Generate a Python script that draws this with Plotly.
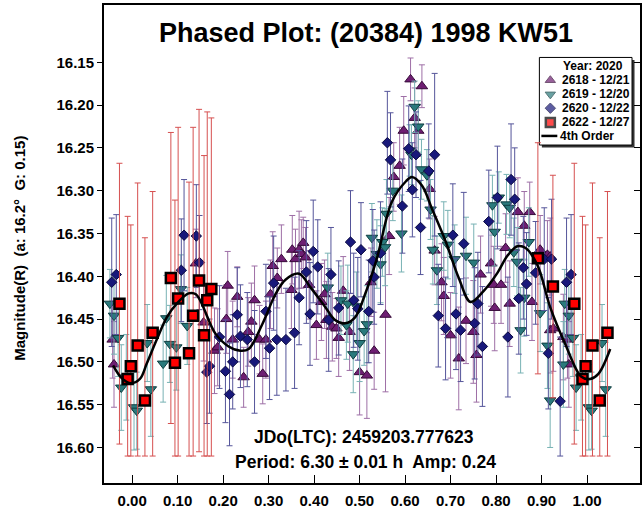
import plotly.graph_objects as go

# ---------------- data (phase, magnitude, error) ----------------
s2618_phase = [0.140, 0.157, 0.181, 0.188, 0.207, 0.210, 0.221, 0.231, 0.245, 0.255, 0.262, 0.269,
               0.280, 0.287, 0.294, 0.304, 0.309, 0.319, 0.328, 0.350, 0.352, 0.359, 0.367, 0.372,
               0.376, 0.381, 0.389, 0.405, 0.416, 0.423, 0.427, 0.440, 0.449, 0.454, 0.464, 0.478,
               0.500, 0.516, 0.525, 0.532, 0.557, 0.565, 0.575, 0.588, 0.597, 0.612, 0.621, 0.629,
               0.637, 0.654, 0.665, 0.680, 0.685, 0.700, 0.718, 0.734, 0.750, 0.757, 0.766, 0.789,
               0.795, 0.797, 0.811, 0.821, 0.830, 0.848, 0.862, 0.874, 0.879, 0.897, 0.913, 0.919,
               0.919, 0.926, 0.948, 0.957, 0.960]
s2618_mag = [16.385, 16.454, 16.487, 16.483, 16.450, 16.411, 16.474, 16.424, 16.518, 16.465, 16.453, 16.428,
             16.474, 16.514, 16.474, 16.421, 16.388, 16.402, 16.380, 16.416, 16.369, 16.380, 16.369, 16.374,
             16.361, 16.378, 16.410, 16.457, 16.430, 16.421, 16.451, 16.459, 16.461, 16.472, 16.417, 16.465,
             16.512, 16.516, 16.407, 16.487, 16.445, 16.353, 16.284, 16.271, 16.230, 16.170, 16.215, 16.230,
             16.178, 16.298, 16.370, 16.407, 16.423, 16.469, 16.496, 16.452, 16.465, 16.492, 16.398, 16.385,
             16.410, 16.437, 16.410, 16.367, 16.432, 16.325, 16.341, 16.325, 16.430, 16.369, 16.375, 16.377,
             16.463, 16.461, 16.471, 16.474, 16.503]
s2618_err = [0.040, 0.045, 0.050, 0.045, 0.040, 0.040, 0.045, 0.035, 0.035, 0.040, 0.045, 0.040,
             0.040, 0.035, 0.045, 0.040, 0.040, 0.035, 0.040, 0.045, 0.040, 0.035, 0.045, 0.040,
             0.030, 0.035, 0.040, 0.040, 0.045, 0.040, 0.045, 0.040, 0.035, 0.045, 0.040, 0.045,
             0.050, 0.050, 0.040, 0.045, 0.090, 0.045, 0.040, 0.045, 0.040, 0.025, 0.035, 0.030,
             0.025, 0.035, 0.040, 0.045, 0.045, 0.050, 0.060, 0.050, 0.060, 0.055, 0.045, 0.050,
             0.045, 0.050, 0.045, 0.040, 0.050, 0.040, 0.040, 0.035, 0.045, 0.040, 0.040, 0.045,
             0.050, 0.050, 0.050, 0.045, 0.050]

s2619_phase = [0.004, 0.010, 0.033, 0.041, 0.068, 0.075, 0.083, 0.097, 0.107, 0.121, 0.430, 0.459,
               0.471, 0.474, 0.486, 0.493, 0.500, 0.510, 0.516, 0.527, 0.538, 0.546, 0.550, 0.556,
               0.559, 0.573, 0.592, 0.610, 0.614, 0.621, 0.629, 0.636, 0.648, 0.656, 0.661, 0.670,
               0.685, 0.694, 0.709, 0.734, 0.751, 0.792, 0.797, 0.806, 0.823, 0.830, 0.839, 0.846,
               0.854, 0.862, 0.872, 0.897, 0.913, 0.919, 0.948, 0.951, 0.960, 0.969, 0.976, 0.987]
s2619_mag = [16.553, 16.557, 16.478, 16.532, 16.502, 16.449, 16.479, 16.483, 16.415, 16.458, 16.413, 16.428,
             16.457, 16.432, 16.491, 16.435, 16.478, 16.464, 16.456, 16.355, 16.374, 16.386, 16.360, 16.366,
             16.327, 16.300, 16.350, 16.253, 16.258, 16.202, 16.225, 16.275, 16.282, 16.322, 16.369, 16.393,
             16.353, 16.363, 16.380, 16.376, 16.384, 16.317, 16.348, 16.308, 16.316, 16.320, 16.372, 16.383,
             16.463, 16.425, 16.360, 16.443, 16.481, 16.545, 16.503, 16.432, 16.446, 16.472, 16.530, 16.518]
s2619_err = [0.050, 0.045, 0.045, 0.055, 0.045, 0.050, 0.045, 0.050, 0.040, 0.045, 0.040, 0.040,
             0.040, 0.045, 0.045, 0.040, 0.045, 0.040, 0.045, 0.040, 0.040, 0.045, 0.040, 0.045,
             0.040, 0.035, 0.045, 0.030, 0.035, 0.030, 0.030, 0.035, 0.030, 0.035, 0.040, 0.040,
             0.040, 0.040, 0.040, 0.045, 0.045, 0.035, 0.040, 0.030, 0.035, 0.035, 0.040, 0.040,
             0.050, 0.045, 0.040, 0.045, 0.050, 0.055, 0.050, 0.040, 0.045, 0.045, 0.050, 0.050]

s2620_phase = [0.108, 0.114, 0.141, 0.148, 0.164, 0.170, 0.192, 0.205, 0.214, 0.221, 0.231, 0.238,
               0.253, 0.269, 0.294, 0.302, 0.311, 0.318, 0.338, 0.357, 0.367, 0.383, 0.391, 0.398,
               0.408, 0.432, 0.437, 0.454, 0.480, 0.487, 0.496, 0.503, 0.520, 0.529, 0.532, 0.546,
               0.561, 0.568, 0.594, 0.608, 0.616, 0.624, 0.634, 0.652, 0.665, 0.673, 0.689, 0.705,
               0.712, 0.722, 0.729, 0.753, 0.760, 0.770, 0.784, 0.803, 0.826, 0.833, 0.841, 0.850,
               0.860, 0.867, 0.887, 0.906, 0.915, 0.922, 0.941, 0.955, 0.965]
s2620_mag = [16.393, 16.352, 16.353, 16.384, 16.512, 16.505, 16.471, 16.511, 16.538, 16.500, 16.445, 16.470,
             16.474, 16.500, 16.441, 16.484, 16.408, 16.474, 16.474, 16.466, 16.425, 16.395, 16.444, 16.371,
             16.389, 16.451, 16.398, 16.437, 16.360, 16.428, 16.438, 16.369, 16.441, 16.382, 16.401, 16.373,
             16.244, 16.264, 16.318, 16.251, 16.299, 16.258, 16.343, 16.277, 16.258, 16.446, 16.461, 16.352,
             16.444, 16.463, 16.362, 16.455, 16.432, 16.482, 16.336, 16.308, 16.471, 16.287, 16.310, 16.426,
             16.390, 16.409, 16.396, 16.380, 16.490, 16.380, 16.546, 16.407, 16.398]
s2620_err = [0.060, 0.065, 0.060, 0.055, 0.060, 0.055, 0.060, 0.060, 0.060, 0.055, 0.055, 0.060,
             0.055, 0.060, 0.055, 0.060, 0.055, 0.065, 0.060, 0.065, 0.055, 0.060, 0.060, 0.060,
             0.055, 0.060, 0.055, 0.055, 0.060, 0.055, 0.060, 0.055, 0.060, 0.060, 0.055, 0.060,
             0.060, 0.055, 0.055, 0.050, 0.055, 0.050, 0.055, 0.055, 0.095, 0.060, 0.060, 0.060,
             0.065, 0.060, 0.060, 0.065, 0.060, 0.070, 0.060, 0.060, 0.070, 0.065, 0.060, 0.065,
             0.060, 0.060, 0.060, 0.060, 0.065, 0.070, 0.075, 0.075, 0.070]

s2622_phase = [0.012, 0.028, 0.045, 0.085, 0.094, 0.101, 0.125, 0.134, 0.147, 0.158, 0.165, 0.174,
               0.892, 0.925, 0.972, 0.990, 0.997]
s2622_mag = [16.481, 16.545, 16.466, 16.402, 16.501, 16.426, 16.490, 16.446, 16.405, 16.469, 16.428, 16.415,
             16.379, 16.412, 16.432, 16.520, 16.505]
s2622_err = [0.190, 0.190, 0.165, 0.170, 0.190, 0.200, 0.200, 0.220, 0.200, 0.210, 0.220, 0.200,
             0.135, 0.130, 0.164, 0.190, 0.165]

# 4th order Fourier fit
fit_phase = [-0.042, -0.023, -0.003, 0.017, 0.032, 0.054, 0.076, 0.098, 0.124, 0.140, 0.183, 0.212,
             0.238, 0.256, 0.286, 0.315, 0.337, 0.367, 0.392, 0.422, 0.446, 0.468, 0.490, 0.512,
             0.538, 0.571, 0.602, 0.615, 0.637, 0.659, 0.689, 0.718, 0.744, 0.773, 0.803, 0.825,
             0.847, 0.865, 0.891, 0.919, 0.952, 0.987, 1.007, 1.025, 1.051]
fit_mag = [16.504, 16.519, 16.525, 16.520, 16.502, 16.474, 16.448, 16.432, 16.420, 16.421, 16.467, 16.482,
           16.487, 16.485, 16.456, 16.421, 16.404, 16.397, 16.413, 16.434, 16.451, 16.455, 16.448, 16.421,
           16.379, 16.313, 16.289, 16.284, 16.294, 16.321, 16.359, 16.402, 16.430, 16.417, 16.396, 16.376,
           16.365, 16.367, 16.387, 16.436, 16.479, 16.517, 16.520, 16.514, 16.485]

x_ticks = [0.0, 0.1, 0.2, 0.3, 0.4, 0.5, 0.6, 0.7, 0.8, 0.9, 1.0]
x_ticktext = ["0.00", "0.10", "0.20", "0.30", "0.40", "0.50", "0.60", "0.70", "0.80", "0.90", "1.00"]
y_ticks = [16.15, 16.20, 16.25, 16.30, 16.35, 16.40, 16.45, 16.50, 16.55, 16.60]
y_ticktext = ["16.15", "16.20", "16.25", "16.30", "16.35", "16.40", "16.45", "16.50", "16.55", "16.60"]

legend_labels = ["2618 - 12/21", "2619 - 12/20", "2620 - 12/22", "2622 - 12/27"]

# ---------------- helpers ----------------
WRAP = 0.05
CLIP = 16.61


def phased(ph, mg, er):
    X, Y, P, M = [], [], [], []
    for p, m, e in zip(ph, mg, er):
        reps = [p]
        if p < WRAP:
            reps.append(p + 1)
        if p > 1 - WRAP:
            reps.append(p - 1)
        for q in reps:
            X.append(q)
            Y.append(m)
            P.append(max(0.0, min(e, CLIP - m)))
            M.append(e)
    return X, Y, P, M


FONT = "Arial, Liberation Sans, sans-serif"
styles = [
    dict(symbol="triangle-up", size=10, color="#6E1E72", line=dict(color="#360A38", width=1), bar="#9E6FA6"),
    dict(symbol="triangle-down", size=10, color="#2A7A7C", line=dict(color="#0E3E40", width=1), bar="#78B2B4"),
    dict(symbol="diamond", size=8, color="#18187A", line=dict(color="#0A0A40", width=1), bar="#55559A"),
    dict(symbol="square", size=10, color="#FF0000", line=dict(color="#000000", width=2.5), bar="#D65050"),
]
series = [(s2618_phase, s2618_mag, s2618_err), (s2619_phase, s2619_mag, s2619_err),
          (s2620_phase, s2620_mag, s2620_err), (s2622_phase, s2622_mag, s2622_err)]

fig = go.Figure()
for (ph, mg, er), st, lab in zip(series, styles, legend_labels):
    X, Y, P, M = phased(ph, mg, er)
    fig.add_trace(go.Scatter(
        x=X, y=Y, mode="markers", name=lab, showlegend=False,
        marker=dict(symbol=st["symbol"], size=st["size"], color=st["color"], line=st["line"]),
        error_y=dict(type="data", symmetric=False, array=P, arrayminus=M,
                     color=st["bar"], thickness=1, width=3),
        cliponaxis=True,
    ))

fig.add_trace(go.Scatter(x=fit_phase, y=fit_mag, mode="lines", name="4th Order", showlegend=False,
                         line=dict(color="black", width=2.5, shape="spline", smoothing=1.0)))

# dummy trace for the right-hand axis
fig.add_trace(go.Scatter(x=[None], y=[None], yaxis="y2", showlegend=False, hoverinfo="skip"))

# ---------------- legend drawn in pixel space (hidden axes x3/y3) ----------------
L, R, T, B = 104, 642, 5, 488
leg_x0, leg_x1, leg_y0, leg_y1 = 541, 634, 58, 146.5
row_y = [81, 95.3, 109.3, 123.7]
line_row = 137.3
sym_x = 552

fig.add_trace(go.Scatter(
    x=[sym_x] * 4, y=row_y, xaxis="x3", yaxis="y3", mode="markers", showlegend=False,
    hoverinfo="skip", cliponaxis=False,
    marker=dict(symbol=[s["symbol"] for s in styles], size=[9, 9, 8, 9],
                color=[s["color"] for s in styles],
                line=dict(color=[s["line"]["color"] for s in styles],
                          width=[s["line"]["width"] for s in styles]))))

shapes = [
    dict(type="rect", xref="x3", yref="y3", x0=leg_x0 + 2.5, x1=leg_x1 + 2.5, y0=leg_y0 + 2.5,
         y1=leg_y1 + 2.5, fillcolor="#333333", line=dict(width=0), layer="below"),
    dict(type="rect", xref="x3", yref="y3", x0=leg_x0, x1=leg_x1, y0=leg_y0, y1=leg_y1,
         fillcolor="white", line=dict(color="black", width=1), layer="below"),
    dict(type="line", xref="x3", yref="y3", x0=543, x1=559, y0=line_row, y1=line_row,
         line=dict(color="black", width=2.5), layer="above"),
]

annotations = [
    dict(xref="x3", yref="y3", x=562.5, y=67, text="<b>Year: 2020</b>", showarrow=False,
         xanchor="left", yanchor="middle", font=dict(family=FONT, size=12, color="black")),
]
for yy, lab in zip(row_y, legend_labels):
    annotations.append(dict(xref="x3", yref="y3", x=561.5, y=yy, text="<b>" + lab + "</b>", showarrow=False,
                            xanchor="left", yanchor="middle", font=dict(family=FONT, size=12, color="black")))
annotations.append(dict(xref="x3", yref="y3", x=560, y=line_row, text="<b>4th Order</b>", showarrow=False,
                        xanchor="left", yanchor="middle", font=dict(family=FONT, size=12, color="black")))

annotations += [
    dict(xref="x3", yref="y3", x=365, y=441.5, text="<b>JDo(LTC): 2459203.777623</b>", showarrow=False,
         xanchor="center", yanchor="middle", font=dict(family=FONT, size=17.5, color="black")),
    dict(xref="x3", yref="y3", x=366, y=466.5, text="<b>Period: 6.30 ± 0.01 h  Amp: 0.24</b>", showarrow=False,
         xanchor="center", yanchor="middle", font=dict(family=FONT, size=17.5, color="black")),
    dict(xref="paper", yref="paper", x=(19 - L) / (R - L), y=(B - 251) / (B - T),
         text="<b>Magnitude(R)  (a: 16.2°  G: 0.15)</b>", textangle=-90, showarrow=False,
         xanchor="center", yanchor="middle", font=dict(family=FONT, size=15, color="black")),
]

yrange = [16.6415, 16.0831]
fig.update_layout(
    width=643, height=510,
    margin=dict(l=L, r=643 - R, t=T, b=510 - B),
    paper_bgcolor="white", plot_bgcolor="white",
    showlegend=False,
    title=dict(text="<b>Phased Plot: (20384) 1998 KW51</b>", x=(367 - L) / (R - L), xref="paper",
               y=1 - 33 / 510, yref="container", xanchor="center", yanchor="middle",
               font=dict(family=FONT, size=27, color="black")),
    xaxis=dict(range=[-0.062, 1.1165], tickvals=x_ticks, ticktext=x_ticktext, ticks="inside",
               ticklen=8, tickwidth=1, tickcolor="black", showline=True, linewidth=2, linecolor="black",
               mirror=True, showgrid=False, zeroline=False, ticklabelstandoff=3,
               tickfont=dict(family=FONT, size=15, color="black", weight="bold")),
    yaxis=dict(range=yrange, tickvals=y_ticks, ticktext=y_ticktext, ticks="outside", ticklen=5,
               tickwidth=1, tickcolor="black", showline=True, linewidth=2, linecolor="black",
               mirror=True, showgrid=False, zeroline=False,
               tickfont=dict(family=FONT, size=15, color="black", weight="bold")),
    yaxis2=dict(range=yrange, overlaying="y", side="right", tickvals=y_ticks, ticks="inside",
                ticklen=6, tickwidth=1, tickcolor="black", showticklabels=False, showgrid=False,
                zeroline=False, showline=False),
    xaxis3=dict(range=[L, R], overlaying="x", anchor="y3", visible=False),
    yaxis3=dict(range=[B, T], overlaying="y", anchor="x3", visible=False),
    shapes=shapes,
    annotations=annotations,
)

fig.write_html("out.html")
